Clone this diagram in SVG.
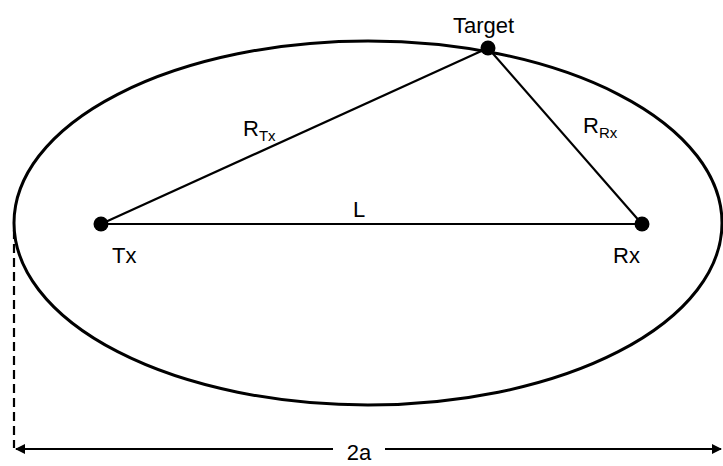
<svg xmlns="http://www.w3.org/2000/svg" width="723" height="466" viewBox="0 0 723 466">
<style>
.t{font-family:"Liberation Sans",Arial,sans-serif;font-size:22px;fill:#000}
.s{font-size:15px}
.ln{stroke:#000;stroke-width:2.2;fill:none}
.dot{fill:#000}
</style>
<defs>
<marker id="ah" markerWidth="10" markerHeight="10" refX="9" refY="5" orient="auto-start-reverse" markerUnits="userSpaceOnUse">
<path d="M0,0 L10,5 L0,10 z" fill="#000"/>
</marker>
</defs>
<rect width="723" height="466" fill="#fff"/>
<g id="ellipse">
<ellipse cx="368" cy="223" rx="354" ry="182" fill="none" stroke="#000" stroke-width="3"/>
</g>
<g id="connectors">
<line class="ln" x1="101" y1="224" x2="488" y2="48"/>
<line class="ln" x1="488" y1="48" x2="642" y2="224"/>
<line class="ln" x1="101" y1="224" x2="642" y2="224"/>
<line class="ln" x1="14" y1="230" x2="14" y2="448" stroke-dasharray="9,5" stroke-width="2.5"/>
<line class="ln" x1="16" y1="449" x2="333" y2="449" marker-start="url(#ah)" stroke-width="3"/>
<line class="ln" x1="385" y1="449" x2="721" y2="449" marker-end="url(#ah)" stroke-width="3"/>
</g>
<g id="tx">
<circle class="dot" cx="101" cy="224" r="7.5"/>
<text class="t" x="112" y="263">Tx</text>
</g>
<g id="rx">
<circle class="dot" cx="642" cy="224" r="7.5"/>
<text class="t" x="613" y="263">Rx</text>
</g>
<g id="target">
<circle class="dot" cx="488" cy="48" r="7.5"/>
<text class="t" x="453" y="33">Target</text>
</g>
<text class="t" x="243" y="136">R<tspan class="s" dy="5">Tx</tspan></text>
<text class="t" x="583" y="133">R<tspan class="s" dy="5">Rx</tspan></text>
<text class="t" x="353" y="217">L</text>
<text class="t" x="359" y="460" text-anchor="middle">2a</text>
</svg>
